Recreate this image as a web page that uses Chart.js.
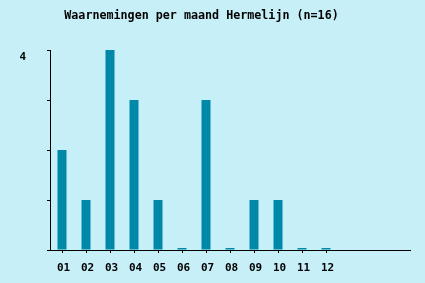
<!DOCTYPE html>
<html>
<head>
<meta charset="utf-8">
<script src="https://cdn.jsdelivr.net/npm/chart.js@4/dist/chart.umd.min.js"></script>
<style>
  html, body { margin: 0; padding: 0; background: #c6eff8; }
  #wrap { width: 425px; height: 283px; position: relative; }
</style>
</head>
<body>
<div id="wrap"><canvas id="c" width="425" height="283"></canvas></div>
<script>
// ── Data ──────────────────────────────────────────────────────────────────────
const TITLE = 'Waarnemingen per maand Hermelijn (n=16)';
const MONTHS = ['01','02','03','04','05','06','07','08','09','10','11','12','','',''];
const COUNTS = [2, 1, 4, 3, 1, 0, 3, 0, 1, 1, 0, 0, null, null, null];
const Y_LABELS = { 4: '4' };

const FONT = { family: '"DejaVu Sans Mono", "Liberation Mono", monospace', weight: 'bold', size: 11 };
const BAR = '#0088a8';

// title drawn by hand so it sits where the original put it (not centred on the plot)
const titlePlugin = {
  id: 'leftTitle',
  afterDraw(chart) {
    const ctx = chart.ctx;
    ctx.save();
    ctx.font = 'bold 11.7px ' + FONT.family;
    ctx.fillStyle = '#000';
    ctx.textAlign = 'center';
    ctx.textBaseline = 'middle';
    ctx.fillText(TITLE, 201.5, 16);
    ctx.restore();
  }
};

new Chart(document.getElementById('c'), {
  type: 'bar',
  data: {
    labels: MONTHS,
    datasets: [{ data: COUNTS, backgroundColor: BAR, barPercentage: 0.375, categoryPercentage: 1, minBarLength: 2 }],
  },
  options: {
    responsive: false,
    animation: false,
    layout: { padding: { left: 0, right: 15, top: 50, bottom: 0 } },
    plugins: { legend: { display: false }, tooltip: { enabled: false }, title: { display: false } },
    scales: {
      x: {
        afterFit: s => { s.height = 33; },
        grid: {
          offset: false, drawOnChartArea: false, tickLength: 3,
          color: c => (c.index < 12 ? '#000' : 'rgba(0,0,0,0)'),
        },
        border: { color: '#000', width: 1 },
        ticks: { color: '#000', font: FONT, padding: 9, labelOffset: 1.5, maxRotation: 0, autoSkip: false },
      },
      y: {
        min: 0, max: 4,
        afterFit: s => { s.width = 50; },
        grid: { drawOnChartArea: false, tickLength: 3, color: '#000' },
        border: { color: '#000', width: 1 },
        ticks: {
          stepSize: 1, color: '#000', font: FONT, padding: 21, labelOffset: 7,
          callback: v => Y_LABELS[v] || '',
        },
      },
    },
  },
  plugins: [titlePlugin],
});
</script>
</body>
</html>
